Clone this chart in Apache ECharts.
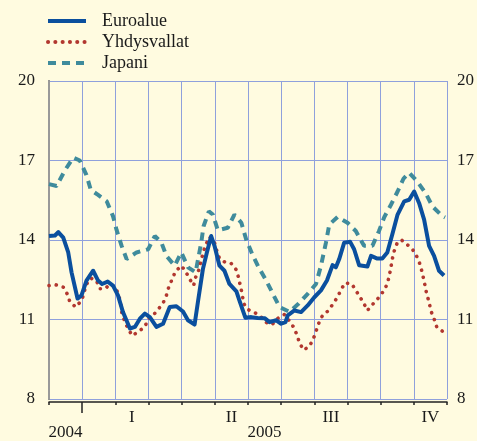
<!DOCTYPE html>
<html>
<head>
<meta charset="utf-8">
<script src="https://cdn.jsdelivr.net/npm/echarts@6/dist/echarts.min.js"></script>
<style>
html,body{margin:0;padding:0;background:#fffbe0;}
#c{width:477px;height:441px;}
</style>
</head>
<body>
<div id="c"></div>
<script>
// x = months from start of Dec 2004 (0..12)
const seriesNames = ['Euroalue', 'Yhdysvallat', 'Japani'];
const euroalue = [
[0,14.15],[0.18,14.17],[0.28,14.3],[0.43,14.09],[0.58,13.53],[0.68,12.78],[0.86,11.79],[0.98,11.91],[1.13,12.47],[1.33,12.84],
[1.48,12.47],[1.60,12.34],[1.77,12.43],[1.93,12.28],[2.08,11.91],[2.23,11.28],[2.44,10.66],[2.59,10.72],[2.74,11.03],[2.89,11.22],
[3.04,11.09],[3.24,10.72],[3.44,10.84],[3.64,11.47],[3.84,11.5],[4.04,11.3],[4.19,10.97],[4.39,10.81],[4.49,11.66],[4.64,12.90],
[4.76,13.53],[4.89,14.15],[4.99,13.78],[5.14,13.03],[5.29,12.84],[5.44,12.34],[5.65,12.06],[5.74,11.72],[5.92,11.07],[6.10,11.09],
[6.29,11.06],[6.50,11.05],[6.65,10.9],[6.85,10.97],[7.00,10.84],[7.13,10.9],[7.20,11.16],[7.40,11.34],[7.60,11.28],[7.80,11.53],
[8.00,11.84],[8.20,12.1],[8.38,12.47],[8.55,13.05],[8.65,12.97],[8.75,13.28],[8.90,13.9],[9.08,13.93],[9.20,13.65],[9.35,13.05],
[9.60,13.0],[9.71,13.40],[9.90,13.30],[10.05,13.30],[10.20,13.53],[10.35,14.21],[10.51,14.96],[10.71,15.46],[10.86,15.52],[11.01,15.83],
[11.16,15.39],[11.31,14.77],[11.46,13.78],[11.61,13.40],[11.76,12.84],[11.91,12.66]
];
const yhdysvallat = [
[0,12.28],[0.20,12.31],[0.43,12.22],[0.56,11.94],[0.63,11.66],[0.81,11.47],[0.98,11.72],[1.06,12.0],[1.10,12.28],[1.26,12.56],
[1.43,12.47],[1.53,12.16],[1.68,12.16],[1.86,12.34],[2.02,12.18],[2.11,11.88],[2.17,11.53],[2.20,11.22],[2.29,10.91],[2.38,10.66],
[2.51,10.39],[2.69,10.54],[2.89,10.72],[2.99,11.03],[3.14,11.16],[3.29,11.38],[3.44,11.62],[3.54,11.91],[3.61,12.22],[3.71,12.51],
[3.81,12.81],[3.99,13.03],[4.12,12.81],[4.24,12.53],[4.36,12.28],[4.42,12.59],[4.52,12.88],[4.59,13.22],[4.64,13.5],[4.72,13.8],
[4.84,14.12],[4.99,13.9],[5.06,13.59],[5.14,13.30],[5.32,13.15],[5.49,13.12],[5.65,12.87],[5.72,12.56],[5.77,12.26],[5.83,11.94],
[5.86,11.62],[5.99,11.38],[6.23,11.24],[6.40,11.09],[6.57,10.87],[6.73,10.81],[6.88,11.03],[7.10,11.19],[7.23,10.97],[7.37,10.72],
[7.47,10.44],[7.55,10.13],[7.67,9.85],[7.85,9.98],[7.97,10.27],[8.05,10.55],[8.13,10.85],[8.25,11.16],[8.40,11.31],[8.55,11.56],
[8.68,11.81],[8.80,12.1],[8.92,12.38],[9.13,12.34],[9.25,12.1],[9.38,11.84],[9.50,11.59],[9.60,11.34],[9.75,11.56],[9.93,11.81],
[10.08,12.06],[10.20,12.34],[10.26,12.66],[10.31,12.97],[10.35,13.28],[10.41,13.59],[10.51,13.93],[10.64,13.99],[10.76,13.87],[10.94,13.68],
[11.06,13.46],[11.16,13.18],[11.23,12.88],[11.29,12.56],[11.34,12.26],[11.39,11.95],[11.46,11.66],[11.51,11.34],[11.61,11.03],[11.69,10.72],
[11.86,10.56]
];
const japani = [
[0,16.11],[0.23,16.04],[0.48,16.63],[0.73,17.11],[0.93,17.0],[1.13,16.45],[1.26,15.89],[1.48,15.70],[1.74,15.46],[1.93,14.90],
[2.04,14.37],[2.19,13.78],[2.34,13.28],[2.64,13.53],[2.99,13.65],[3.19,14.15],[3.39,13.9],[3.54,13.40],[3.79,13.03],[3.99,13.53],
[4.19,12.97],[4.42,12.78],[4.59,13.9],[4.66,14.52],[4.82,15.08],[4.94,14.96],[5.09,14.37],[5.39,14.46],[5.59,14.96],[5.80,14.65],
[5.95,14.0],[6.13,13.46],[6.32,12.97],[6.55,12.47],[6.75,11.97],[6.95,11.47],[7.25,11.29],[7.53,11.6],[7.80,11.97],[8.05,12.34],
[8.20,13.03],[8.35,13.9],[8.45,14.58],[8.70,14.87],[9.00,14.65],[9.25,14.34],[9.50,13.78],[9.75,13.78],[9.95,14.34],[10.11,14.87],
[10.31,15.33],[10.51,15.83],[10.69,16.32],[10.86,16.54],[11.11,16.20],[11.36,15.76],[11.56,15.27],[11.86,14.90],[11.94,14.85]
];
const quarterLabels = ['I', 'II', 'III', 'IV'];
const quarterPos = [2.5, 5.5, 8.5, 11.5];
const yearLabels = ['2004', '2005'];
const yearPos = [0.5, 6.5];
const yearBoundary = [1];

const FONT = 'Liberation Serif';
const gridColor = '#8fa0dc';
const chart = echarts.init(document.getElementById('c'), null, {renderer: 'canvas'});
chart.setOption({
  backgroundColor: '#fffbe0',
  animation: false,
  textStyle: {fontFamily: FONT, color: '#1a1a1a'},
  legend: {
    orient: 'vertical', left: 41, top: 7,
    itemWidth: 38, itemHeight: 14, itemGap: 3,
    itemStyle: {opacity: 0},
    lineStyle: {width: 4},
    textStyle: {fontFamily: FONT, fontSize: 18, color: '#1a1a1a', padding: [0, 0, 0, 11]},
    data: seriesNames
  },
  grid: {left: 49, right: 29, top: 81, bottom: 38, containLabel: false},
  xAxis: [{
    type: 'value', min: 0, max: 12, interval: 1, position: 'bottom', offset: 3,
    axisLine: {show: true, lineStyle: {color: '#222', width: 1.5}},
    axisTick: {show: true, length: 3, lineStyle: {color: '#222', width: 1.5}},
    splitLine: {show: true, lineStyle: {color: gridColor, width: 1}},
    axisLabel: {
      show: true, customValues: quarterPos, margin: 7,
      fontFamily: FONT, fontSize: 17, color: '#1a1a1a',
      formatter: v => quarterLabels[quarterPos.indexOf(v)] || ''
    }
  }, {
    type: 'value', min: 0, max: 12, position: 'bottom', offset: 3,
    axisLine: {show: false},
    axisTick: {show: true, customValues: yearBoundary, length: 11, lineStyle: {color: '#222', width: 1.5}},
    splitLine: {show: false},
    axisLabel: {
      show: true, customValues: yearPos, margin: 22,
      fontFamily: FONT, fontSize: 17, color: '#1a1a1a',
      formatter: v => yearLabels[yearPos.indexOf(v)] || ''
    }
  }],
  yAxis: [{
    type: 'value', min: 8, max: 20, interval: 3, position: 'left',
    axisLine: {show: true, lineStyle: {color: '#666', width: 2}},
    axisTick: {show: false},
    splitLine: {show: true, lineStyle: {color: gridColor, width: 1}},
    axisLabel: {margin: 14, fontFamily: FONT, fontSize: 17, color: '#1a1a1a'}
  }, {
    type: 'value', min: 8, max: 20, interval: 3, position: 'right',
    axisLine: {show: true, lineStyle: {color: '#999', width: 2}},
    axisTick: {show: false},
    splitLine: {show: false},
    axisLabel: {margin: 10, fontFamily: FONT, fontSize: 17, color: '#1a1a1a'}
  }],
  series: [{
    name: seriesNames[0], type: 'line', data: euroalue, symbol: 'none', z: 4,
    itemStyle: {color: '#0a4f9e'},
    lineStyle: {color: '#0a4f9e', width: 4, join: 'round'}
  }, {
    name: seriesNames[1], type: 'line', data: yhdysvallat, symbol: 'none', z: 3,
    itemStyle: {color: '#b2372f'},
    lineStyle: {color: '#b2372f', width: 3.6, type: [0.1, 7.2], cap: 'round'}
  }, {
    name: seriesNames[2], type: 'line', data: japani, symbol: 'none', z: 2,
    itemStyle: {color: '#3f8b9c'},
    lineStyle: {color: '#3f8b9c', width: 4, type: [8, 6], cap: 'butt'}
  }]
});
</script>
</body>
</html>
